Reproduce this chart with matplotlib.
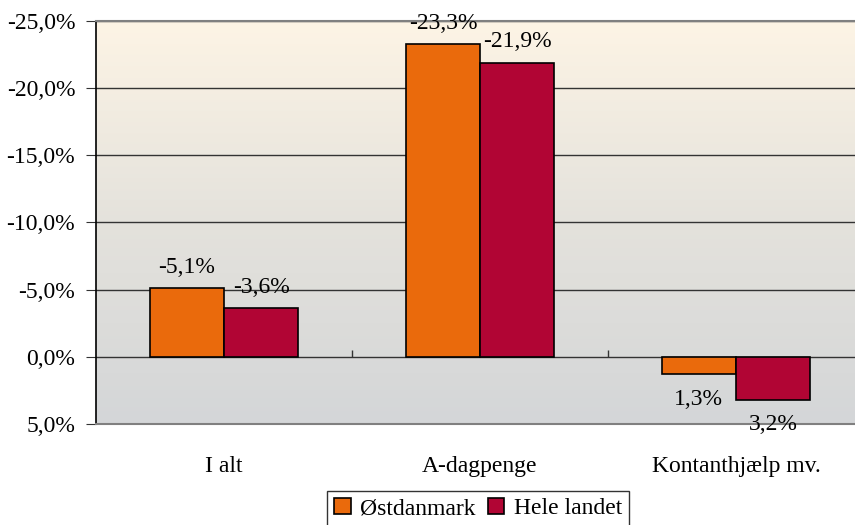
import numpy as np
import matplotlib
matplotlib.use("Agg")
import matplotlib.pyplot as plt
from matplotlib.colors import LinearSegmentedColormap

categories = ["I alt", "A-dagpenge", "Kontanthjælp mv."]
series_names = ["Østdanmark", "Hele landet"]
oest = [-5.1, -23.3, 1.3]
hele = [-3.6, -21.9, 3.2]
yticks = [-25, -20, -15, -10, -5, 0, 5]

colors = ["#EA6A0C", "#B10534"]

plt.rcParams["font.family"] = ["Liberation Serif", "DejaVu Serif"]
plt.rcParams["font.size"] = 17

fig = plt.figure(figsize=(8.55, 5.25), dpi=100)
ax = fig.add_axes([96 / 855, 1 - 424 / 525, (864 - 96) / 855, 403 / 525])

# background gradient, cream at top to grey at bottom
cmap = LinearSegmentedColormap.from_list("bg", ["#D4D6D8", "#E4E2DC", "#FDF4E5"])
grad = np.linspace(0, 1, 256).reshape(-1, 1)
ax.imshow(grad, extent=[0, 1, 0, 1], transform=ax.transAxes, aspect="auto",
          cmap=cmap, origin="lower", zorder=0)

x = np.arange(len(categories))
w = 0.29
bars1 = ax.bar(x - w / 2, oest, w, color=colors[0], edgecolor="black", lw=1.2,
               label=series_names[0], zorder=3)
bars2 = ax.bar(x + w / 2, hele, w, color=colors[1], edgecolor="black", lw=1.2,
               label=series_names[1], zorder=3)

for bars, vals in [(bars1, oest), (bars2, hele)]:
    for b, v in zip(bars, vals):
        txt = f"{v:.1f}%".replace(".", ",")
        off = 15 if v < 0 else -18
        ax.annotate(txt, (b.get_x() + b.get_width() / 2, v), xytext=(0, off),
                    textcoords="offset points", ha="center", va="center", zorder=4)

ax.set_ylim(5, -25)
ax.set_xlim(-0.5, 2.5)
ax.set_yticks(yticks)
ax.set_yticklabels([f"{t:.1f}%".replace(".", ",") for t in yticks])
ax.grid(axis="y", color="#333333", lw=1, zorder=1)
ax.tick_params(axis="y", length=7, color="#333333", pad=8)

ax.set_xticks(x)
ax.set_xticklabels(categories)
ax.tick_params(axis="x", length=0, pad=23)

# category boundary ticks on the zero line
ax.vlines([0.5, 1.5], 0, -0.5, color="#333333", lw=1, zorder=2)

ax.spines["left"].set_color("black")
ax.spines["left"].set_linewidth(1.2)
ax.spines["top"].set_color("#808080")
ax.spines["top"].set_linewidth(1.5)
ax.spines["bottom"].set_color("#808080")
ax.spines["bottom"].set_linewidth(1.5)
ax.spines["right"].set_visible(False)

leg = fig.legend(loc="lower center", bbox_to_anchor=(478 / 855, -0.025), ncol=2,
                 frameon=True, fancybox=False, edgecolor="black",
                 handlelength=0.7, handleheight=0.7, handletextpad=0.4,
                 columnspacing=0.5, borderpad=0.3)
leg.get_frame().set_linewidth(1)

fig.savefig("out.png", dpi=100)
